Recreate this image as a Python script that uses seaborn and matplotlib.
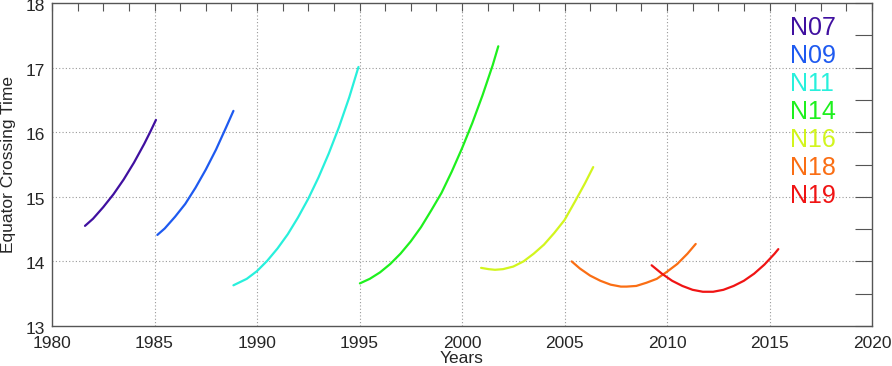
import numpy as np
import pandas as pd
import matplotlib.pyplot as plt
import matplotlib.transforms as mtransforms
import seaborn as sns
from matplotlib.ticker import MultipleLocator

sns.set_style("white")
plt.rcParams['font.family'] = ['Liberation Sans', 'DejaVu Sans']

# satellites and their colours
satellites = ['N07', 'N09', 'N11', 'N14', 'N16', 'N18', 'N19']
colors = ['#4010A0', '#1E5AF0', '#28F0DC', '#1EF01E', '#D2F51E', '#FA6E14', '#F01414']

# equator crossing time drift
n07_years = [1981.61, 1982.0, 1982.5, 1983.0, 1983.5, 1984.0, 1984.5, 1984.8, 1985.07]
n07_ect = [14.55, 14.66, 14.84, 15.04, 15.27, 15.53, 15.82, 16.01, 16.19]

n09_years = [1985.14, 1985.5, 1986.0, 1986.5, 1987.0, 1987.5, 1988.0, 1988.5, 1988.85]
n09_ect = [14.41, 14.51, 14.69, 14.89, 15.14, 15.42, 15.73, 16.08, 16.33]

n11_years = [1988.85, 1989.5, 1990.0, 1990.5, 1991.0, 1991.5, 1992.0, 1992.5,
             1993.0, 1993.5, 1994.0, 1994.5, 1994.95]
n11_ect = [13.63, 13.73, 13.85, 14.01, 14.20, 14.42, 14.68, 14.97,
           15.30, 15.67, 16.08, 16.54, 17.01]

n14_years = [1995.02, 1995.5, 1996.0, 1996.5, 1997.0, 1997.5, 1998.0, 1998.5,
             1999.0, 1999.5, 2000.0, 2000.5, 2001.0, 2001.5, 2001.77]
n14_ect = [13.66, 13.73, 13.83, 13.96, 14.12, 14.31, 14.53, 14.79,
           15.06, 15.39, 15.75, 16.14, 16.57, 17.04, 17.33]

n16_years = [2000.93, 2001.3, 2001.61, 2002.0, 2002.5, 2003.0, 2003.5, 2004.0,
             2004.5, 2005.0, 2005.5, 2006.0, 2006.4]
n16_ect = [13.90, 13.88, 13.87, 13.88, 13.92, 14.00, 14.12, 14.26,
           14.44, 14.64, 14.92, 15.21, 15.46]

n18_years = [2005.35, 2005.75, 2006.25, 2006.75, 2007.25, 2007.75, 2008.03, 2008.5,
             2009.0, 2009.5, 2010.0, 2010.5, 2011.0, 2011.4]
n18_ect = [14.0, 13.89, 13.78, 13.70, 13.64, 13.61, 13.61, 13.62,
           13.67, 13.73, 13.84, 13.96, 14.12, 14.27]

n19_years = [2009.25, 2009.75, 2010.25, 2010.75, 2011.25, 2011.75, 2012.25, 2012.75,
             2013.25, 2013.75, 2014.25, 2014.75, 2015.25, 2015.43]
n19_ect = [13.94, 13.81, 13.70, 13.62, 13.56, 13.53, 13.53, 13.56,
           13.62, 13.70, 13.81, 13.95, 14.12, 14.19]

all_years = [n07_years, n09_years, n11_years, n14_years, n16_years, n18_years, n19_years]
all_ect = [n07_ect, n09_ect, n11_ect, n14_ect, n16_ect, n18_ect, n19_ect]

df = pd.concat([
    pd.DataFrame({'Years': yrs, 'ECT': ect, 'sat': s})
    for s, yrs, ect in zip(satellites, all_years, all_ect)
], ignore_index=True)

fig = plt.figure(figsize=(8.92, 3.66), dpi=100)
ax = fig.add_axes([52 / 892, 40 / 366, 820 / 892, 323 / 366])

sns.lineplot(data=df, x='Years', y='ECT', hue='sat', palette=colors,
             sort=False, estimator=None, legend=False, linewidth=1.6, ax=ax)
for ln in ax.get_lines():
    ln.set_solid_joinstyle('round')
    ln.set_solid_capstyle('round')

ax.set_xlim(1980, 2020)
ax.set_ylim(13, 18)
ax.xaxis.set_major_locator(MultipleLocator(5))
ax.xaxis.set_minor_locator(MultipleLocator(1.25))
ax.yaxis.set_major_locator(MultipleLocator(1))
ax.yaxis.set_minor_locator(MultipleLocator(0.5))

# dotted grid only at the inner major ticks
for x in range(1985, 2020, 5):
    ax.axvline(x, color='#999999', linestyle=(0, (1, 2)), linewidth=0.8, zorder=0)
for y in range(14, 18):
    ax.axhline(y, color='#999999', linestyle=(0, (1, 2)), linewidth=0.8, zorder=0)

ax.tick_params(axis='both', which='both', direction='in', top=True, right=True,
               color='#555555', labelsize=12.5, width=0.8)
ax.tick_params(axis='x', which='both', length=6, pad=7)
ax.tick_params(axis='y', which='both', length=12, pad=5)
for sp in ax.spines.values():
    sp.set_color('#555555')
    sp.set_linewidth(1.0)

# y labels sit a little below their ticks
shift = mtransforms.ScaledTranslation(0, -1.5 / 72, fig.dpi_scale_trans)
for lbl in ax.get_yticklabels():
    lbl.set_transform(lbl.get_transform() + shift)

ax.set_xlabel('Years', fontsize=12.5, labelpad=0)
ax.set_ylabel('Equator Crossing Time', fontsize=12.5, labelpad=7)

# coloured labels at top right
for i, (s, c) in enumerate(zip(satellites, colors)):
    ax.text(0.900, 0.923 - i * 0.0868, s, color=c, fontsize=18,
            transform=ax.transAxes, ha='left', va='center')

fig.savefig('out.png', dpi=100)
